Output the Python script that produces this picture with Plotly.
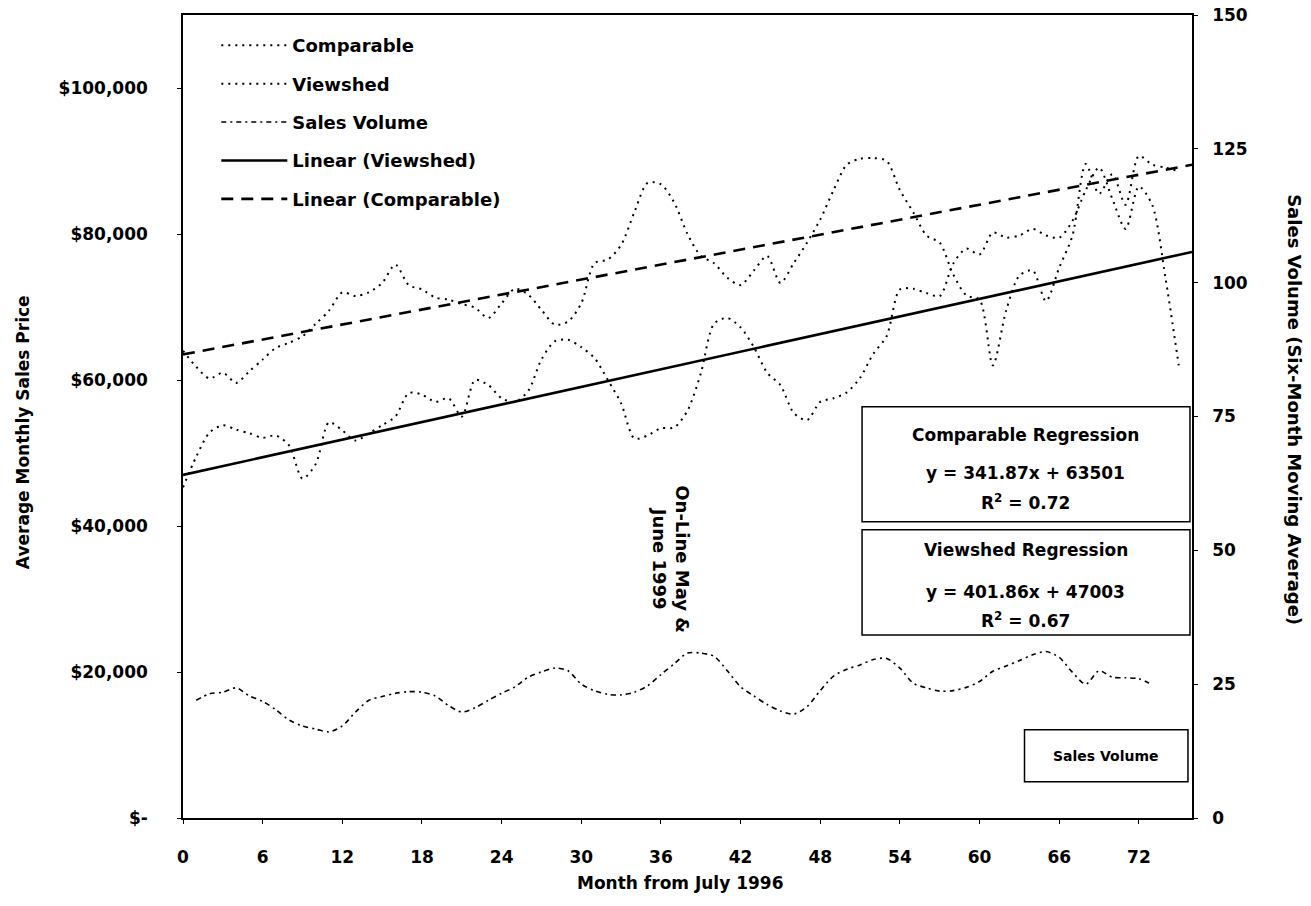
import plotly.graph_objects as go

## Monthly average sales prices, month 0 = July 1996
months = list(range(76))
comparable = [64.0, 61.8, 60.2, 61.0, 59.6, 61.2, 62.8, 64.4, 65.1, 66.0,
              67.7, 69.5, 72.0, 71.5, 72.0, 73.3, 75.8, 73.0, 72.4, 71.3,
              71.0, 70.4, 69.9, 68.5, 70.5, 72.5, 71.7, 69.6, 67.6, 68.0,
              70.5, 76.0, 76.5, 78.5, 83.0, 87.0, 86.8, 84.3, 80.0, 77.0,
              76.0, 74.0, 73.0, 75.0, 77.0, 73.3, 76.0, 78.8, 82.0, 86.0,
              89.5, 90.3, 90.4, 90.0, 86.0, 83.0, 79.8, 78.8, 74.5, 71.6,
              71.0, 62.0, 69.5, 74.3, 75.0, 70.8, 75.4, 79.8, 89.6, 85.5,
              88.2, 84.0, 90.7, 89.5, 89.1, 88.6]
viewshed = [45.3, 49.5, 52.8, 53.8, 53.2, 52.7, 52.1, 52.4, 51.0, 46.5,
            48.5, 54.2, 53.1, 51.7, 52.7, 53.8, 55.0, 58.2, 58.0, 57.0,
            57.5, 55.0, 60.0, 59.3, 57.5, 57.0, 58.5, 62.8, 65.3, 65.5,
            64.5, 63.0, 60.0, 56.8, 52.0, 52.4, 53.4, 53.5, 55.8, 60.9,
            67.7, 68.5, 67.2, 64.5, 61.0, 59.3, 55.5, 54.5, 57.0, 57.5,
            58.3, 60.3, 63.6, 66.0, 72.4, 72.5, 71.9, 71.5, 75.9, 78.0,
            77.2, 80.2, 79.5, 79.8, 80.7, 79.8, 79.5, 81.8, 86.0, 89.1,
            84.8, 80.7, 86.5, 84.0, 74.0, 62.0]

## Six-month moving average of sales volume (right axis)
volume_months = list(range(1, 74))
sales_volume = [22.0, 23.2, 23.5, 24.3, 22.8, 21.8, 20.2, 18.3, 17.2, 16.6,
                16.1, 17.2, 19.8, 22.0, 22.7, 23.3, 23.6, 23.5, 22.8, 21.0,
                19.8, 20.6, 22.0, 23.3, 24.5, 26.3, 27.3, 28.0, 27.5, 25.0,
                23.8, 23.1, 23.0, 23.5, 24.7, 26.8, 28.8, 30.8, 30.8, 30.2,
                27.5, 24.5, 22.8, 21.2, 20.0, 19.4, 20.8, 23.8, 26.5, 27.8,
                28.6, 29.6, 29.8, 28.0, 25.2, 24.3, 23.7, 23.8, 24.4, 25.5,
                27.4, 28.4, 29.4, 30.5, 31.1, 30.0, 27.2, 25.0, 27.5, 26.3,
                26.2, 26.0, 24.9]

## Regression results printed on the chart
comp_slope, comp_intercept, comp_r2 = 341.87, 63501, 0.72
view_slope, view_intercept, view_r2 = 401.86, 47003, 0.67
trend_x = [0, 76]

x_ticks = list(range(0, 73, 6))
price_ticks = [0, 20000, 40000, 60000, 80000, 100000]
price_labels = ["$-", "$20,000", "$40,000", "$60,000", "$80,000", "$100,000"]
volume_ticks = [0, 25, 50, 75, 100, 125, 150]

FONT = "DejaVu Sans"

fig = go.Figure()

fig.add_trace(go.Scatter(
    x=months, y=[v * 1000 for v in comparable], name="Comparable",
    mode="lines", line=dict(color="black", width=2, dash="2px,5px",
                            shape="spline", smoothing=0.8),
    legendgroup="a"))
fig.add_trace(go.Scatter(
    x=months, y=[v * 1000 for v in viewshed], name="Viewshed",
    mode="lines", line=dict(color="black", width=2, dash="2px,5px",
                            shape="spline", smoothing=0.8),
    legendgroup="b"))
fig.add_trace(go.Scatter(
    x=volume_months, y=sales_volume, name="Sales Volume", yaxis="y2",
    mode="lines", line=dict(color="black", width=1.6, dash="5px,4px,2px,4px",
                            shape="spline", smoothing=0.8),
    legendgroup="c"))
fig.add_trace(go.Scatter(
    x=trend_x, y=[view_intercept + view_slope * m for m in trend_x],
    name="Linear (Viewshed)", mode="lines",
    line=dict(color="black", width=2.6), legendgroup="d"))
fig.add_trace(go.Scatter(
    x=trend_x, y=[comp_intercept + comp_slope * m for m in trend_x],
    name="Linear (Comparable)", mode="lines",
    line=dict(color="black", width=2.6, dash="12px,8px"), legendgroup="e"))

# regression boxes and the small "Sales Volume" label box
boxes = [(0.673, 0.369, 0.998, 0.512), (0.673, 0.228, 0.998, 0.359),
         (0.834, 0.045, 0.996, 0.110)]
for x0, y0, x1, y1 in boxes:
    fig.add_shape(type="rect", xref="paper", yref="paper",
                  x0=x0, y0=y0, x1=x1, y1=y1,
                  line=dict(color="black", width=1.5), fillcolor="white",
                  layer="above")

notes = [
    ("Comparable Regression", 0.835, 0.477),
    (f"y = {comp_slope}x + {comp_intercept}", 0.835, 0.430),
    (f"R<sup>2</sup> = {comp_r2}", 0.835, 0.393),
    ("Viewshed Regression", 0.835, 0.334),
    (f"y = {view_slope}x + {view_intercept}", 0.835, 0.281),
    (f"R<sup>2</sup> = {view_r2}", 0.835, 0.246),
]
for text, x, y in notes:
    fig.add_annotation(text=text, x=x, y=y, xref="paper", yref="paper",
                       xanchor="center", yanchor="middle",
                       showarrow=False, font=dict(size=17))

fig.add_annotation(text="Sales Volume", x=0.915, y=0.077, xref="paper",
                   yref="paper", xanchor="center", yanchor="middle",
                   showarrow=False, font=dict(size=14))
fig.add_annotation(text="On-Line May &<br>June 1999", x=36.8, y=35500,
                   xanchor="center", yanchor="middle",
                   textangle=90, showarrow=False, font=dict(size=18))

# axis titles
fig.add_annotation(text="Average Monthly Sales Price", x=-0.159, y=0.48,
                   xref="paper", yref="paper", xanchor="center",
                   yanchor="middle", textangle=-90,
                   showarrow=False, font=dict(size=17))
fig.add_annotation(text="Sales Volume (Six-Month Moving Average)", x=1.102,
                   y=0.508, xref="paper", yref="paper", xanchor="center",
                   yanchor="middle", textangle=90,
                   showarrow=False, font=dict(size=18))
fig.add_annotation(text="Month from July 1996", x=0.4926, y=-0.081,
                   xref="paper", yref="paper", xanchor="center",
                   yanchor="middle", showarrow=False, font=dict(size=17))

fig.update_layout(
    width=1311, height=906,
    margin=dict(l=183, r=119, t=15, b=88),
    paper_bgcolor="white", plot_bgcolor="white",
    font=dict(family=FONT, size=17, color="black", weight="bold"),
    showlegend=True,
    legend=dict(x=0.033, y=0.985, xanchor="left", yanchor="top",
                bgcolor="rgba(255,255,255,0)", traceorder="grouped",
                tracegroupgap=12, itemwidth=66, font=dict(size=18)),
    xaxis=dict(range=[0, 76], tickvals=x_ticks, showgrid=False,
               zeroline=False, showline=True, linecolor="black",
               linewidth=1.5, mirror=True, ticks="outside", ticklen=4,
               tickcolor="black", ticklabelstandoff=19, automargin=False),
    yaxis=dict(range=[0, 110000], tickvals=price_ticks, ticktext=price_labels,
               showgrid=False, zeroline=False, showline=True,
               linecolor="black", linewidth=1.5, ticks="outside", ticklen=4,
               tickcolor="black", ticklabelstandoff=26, automargin=False),
    yaxis2=dict(range=[0, 150], tickvals=volume_ticks, overlaying="y",
                side="right", showgrid=False, zeroline=False, showline=True,
                linecolor="black", linewidth=1.5, ticks="outside", ticklen=4,
                tickcolor="black", ticklabelstandoff=11, automargin=False),
)

# page body margin would shift the chart off the 1311x906 frame
fig.write_html("out.html", config={"displayModeBar": False},
               post_script="document.body.style.margin = '0';")
